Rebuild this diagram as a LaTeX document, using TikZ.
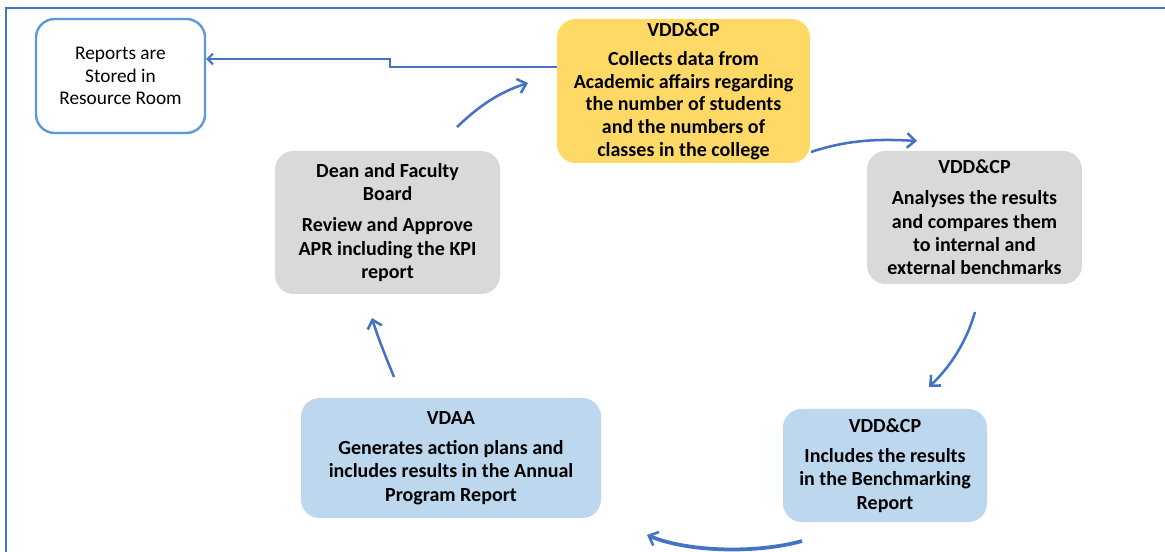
\documentclass[tikz,border=0pt]{standalone}
\usepackage{fontspec}
\setmainfont{Carlito}
\usetikzlibrary{arrows.meta}
\definecolor{ayellow}{HTML}{FFD966}
\definecolor{agrey}{HTML}{D9D9D9}
\definecolor{ablue}{HTML}{BDD7EE}
\definecolor{aline}{HTML}{4472C4}
\definecolor{aborder}{HTML}{5B9BD5}
\tikzset{
  stepbox/.style={rounded corners=14pt, align=center, inner sep=0pt,
    font=\bfseries\fontsize{15}{17.5}\selectfont},
  storebox/.style={rounded corners=14pt, align=center, inner sep=0pt,
    draw=aborder, line width=1.8pt, fill=white,
    font=\fontsize{14.5}{16.9}\selectfont},
  flow/.style={draw=aline, line width=1.9pt,
    -{Straight Barb[length=6pt,width=11pt,line width=1.9pt]}},
  elbow/.style={draw=aline, line width=1.5pt,
    -{Straight Barb[length=4pt,width=8pt,line width=1.5pt]}},
}
\begin{document}
\begin{tikzpicture}[x=0.75pt,y=-0.75pt]
\clip (0,0) rectangle (1165,552);
\fill[white] (0,0) rectangle (1165,552);
% frame
\draw[aline, line width=1.5pt] (6,600) -- (6,8) -- (1200,8);

% nodes
\node[storebox, minimum width=126.75pt, minimum height=85.5pt] (store) at (120.5,76)
  {Reports are\\Stored in\\Resource Room};
\node[stepbox, fill=ayellow, minimum width=189.75pt, minimum height=108pt,
  font=\bfseries\fontsize{15}{17}\selectfont] (collect) at (683.5,91)
  {VDD\&CP\\[5pt]Collects data from\\Academic affairs regarding\\the number of students\\and the numbers of\\classes in the college};
\node[stepbox, fill=agrey, minimum width=161.25pt, minimum height=99.75pt] (analyse) at (974.5,217.5)
  {VDD\&CP\\[6pt]Analyses the results\\and compares them\\to internal and\\external benchmarks};
\node[stepbox, fill=ablue, minimum width=153pt, minimum height=84.75pt] (include) at (885,465.5)
  {VDD\&CP\\[5pt]Includes the results\\in the Benchmarking\\Report};
\node[stepbox, fill=ablue, minimum width=225pt, minimum height=90pt] (vdaa) at (451,458)
  {VDAA\\[5pt]Generates action plans and\\includes results in the Annual\\Program Report};
\node[stepbox, fill=agrey, minimum width=168.75pt, minimum height=107.25pt] (dean) at (387.5,222.5)
  {Dean and Faculty\\Board\\[6pt]Review and Approve\\APR including the KPI\\report};

% free ends of the cycle arrows
\coordinate (a1) at (457,127);  \coordinate (a2) at (528,83);
\coordinate (b1) at (811,152);  \coordinate (b2) at (917,141);
\coordinate (c1) at (975,312);  \coordinate (c2) at (929,387);
\coordinate (d1) at (802,541);  \coordinate (d2) at (647,535);
\coordinate (e1) at (394,377);  \coordinate (e2) at (372,318);

% elbow connector to the store
\draw[elbow] ([yshift=18pt]collect.west) -- (390,67) -- (390,59) -- (store.east |- 390,59);

% cycle arrows
\draw[flow] (a1) .. controls (480,105) and (500,92) .. (a2);
\draw[flow] (b1) .. controls (850,139) and (882,139) .. (b2);
\draw[flow] (c1) .. controls (967,340) and (952,365) .. (c2);
\draw[flow, line width=2.8pt] (d1) .. controls (760,553) and (690,553) .. (d2);
\draw[flow] (e1) .. controls (385,355) and (377,335) .. (e2);
\end{tikzpicture}
\end{document}
